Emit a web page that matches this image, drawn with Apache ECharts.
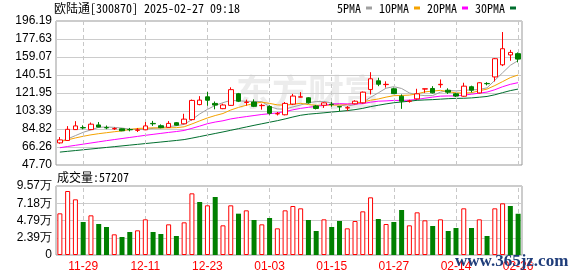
<!DOCTYPE html>
<html>
<head>
<meta charset="utf-8">
<script src="https://cdn.jsdelivr.net/npm/echarts@6/dist/echarts.min.js"></script>
<style>
html, body { margin: 0; padding: 0; background: #fff; }
#main { width: 578px; height: 276px; }
</style>
</head>
<body>
<div id="main"></div>
<script>
// 交易日
const dates = ['11-26','11-27','11-28','11-29','12-02','12-03','12-04','12-05','12-06','12-09',
  '12-10','12-11','12-12','12-13','12-16','12-17','12-18','12-19','12-20','12-23',
  '12-24','12-25','12-26','12-27','12-30','12-31','01-02','01-03','01-06','01-07',
  '01-08','01-09','01-10','01-13','01-14','01-15','01-16','01-17','01-20','01-21',
  '01-22','01-23','01-24','01-27','02-05','02-06','02-07','02-10','02-11','02-12',
  '02-13','02-14','02-17','02-18','02-19','02-20','02-21','02-24','02-25','02-26'];
const markDates = ['11-29','12-11','12-23','01-03','01-15','01-27','02-14','02-26'];

// [开, 收, 低, 高]
const candles = [
  [70.5,73.6,69.6,76.5],[73.0,84.5,72.5,87.8],[84.2,88.0,83.8,92.9],[86.3,86.0,84.5,88.6],
  [84.2,89.8,84.0,91.5],[89.0,86.8,86.5,92.0],[86.3,86.0,84.6,88.4],[85.0,85.3,83.8,86.6],
  [85.0,83.0,82.6,85.4],[84.3,84.0,82.4,85.9],[83.5,83.8,81.7,85.8],[84.0,88.0,83.6,92.0],
  [90.6,90.2,88.0,93.2],[88.2,86.2,85.6,89.6],[86.5,90.6,86.0,93.0],[91.3,88.8,88.3,92.0],
  [90.2,95.0,89.8,100.5],[94.5,114.3,93.6,115.2],[110.0,114.6,109.3,118.7],[118.0,114.5,108.8,123.0],
  [111.2,109.5,105.1,113.2],[105.8,109.6,105.3,110.9],[109.2,125.4,108.8,127.8],[121.2,113.5,112.6,122.0],
  [112.2,112.5,108.9,115.1],[112.6,108.2,107.4,115.4],[108.9,109.2,104.8,110.9],[108.0,101.0,99.6,109.3],
  [100.4,100.7,98.8,102.4],[99.5,111.2,98.9,112.7],[110.5,118.8,109.5,121.0],[117.7,118.0,117.4,122.8],
  [117.0,111.8,111.0,117.6],[108.6,106.0,105.0,109.6],[109.3,111.8,106.6,112.4],[110.3,110.0,107.8,112.6],
  [107.9,107.6,103.1,108.6],[106.5,106.8,103.5,108.6],[110.8,113.5,110.2,114.5],[111.8,122.8,111.0,123.5],
  [125.6,136.6,120.4,143.4],[134.5,131.0,129.0,137.7],[130.6,130.9,127.5,134.0],[126.3,121.3,120.8,127.5],
  [118.6,113.5,105.6,120.5],[113.4,113.7,112.0,115.0],[115.9,121.1,115.2,126.3],[126.0,126.3,122.1,126.5],
  [126.6,122.1,121.5,129.0],[130.5,130.9,127.3,135.9],[124.8,122.8,121.0,126.8],[121.1,118.8,117.8,122.0],
  [118.6,129.0,118.0,132.5],[128.4,124.8,122.5,129.5],[122.0,132.5,121.5,133.0],[131.8,131.5,129.8,133.1],
  [138.5,157.3,133.8,158.0],[151.0,167.6,149.7,184.8],[161.2,163.8,155.2,166.4],[162.5,156.9,153.5,163.8]
];

const ma5 = [72.0,74.6,78.0,81.4,83.9,86.6,86.9,86.5,85.8,84.7,
  84.2,84.5,85.5,86.1,87.3,88.2,89.6,94.5,100.3,105.1,
  109.1,112.0,114.3,113.9,113.4,113.3,113.0,108.0,105.5,105.3,
  107.6,109.6,111.9,113.1,113.3,111.5,109.5,108.4,110.0,112.2,
  117.5,122.1,126.9,128.5,126.6,122.0,120.1,119.2,119.3,122.8,
  124.6,124.1,124.6,125.2,125.5,127.3,135.0,142.8,150.5,155.4];
const ma10 = [71.8,73.6,75.6,77.3,78.8,80.0,81.0,82.0,82.9,84.3,
  85.4,85.7,86.0,85.9,86.0,86.2,87.1,90.0,93.2,96.2,
  98.7,100.8,104.4,107.1,109.3,111.2,112.5,111.2,109.7,109.4,
  110.4,111.3,110.0,109.3,109.3,109.5,109.5,110.2,111.5,112.7,
  114.5,115.8,117.7,119.2,119.4,119.8,121.1,123.1,123.9,124.7,
  123.3,122.1,121.9,122.3,124.2,126.0,129.6,133.7,137.8,140.5];
const ma20 = [65.5,66.8,68.0,69.2,70.4,71.6,72.8,73.9,75.0,76.1,
  77.2,78.3,79.3,80.3,81.3,82.2,83.3,85.5,87.8,90.3,
  92.0,93.3,95.2,96.5,97.6,98.7,99.8,100.6,101.4,102.8,
  104.6,106.1,107.2,108.2,109.3,110.4,111.0,110.7,110.6,111.0,
  112.5,113.5,113.8,114.3,114.3,114.6,115.3,116.6,117.7,118.7,
  118.9,118.9,119.8,120.7,121.8,122.9,125.3,128.4,130.9,132.6];
const ma30 = [61.0,61.8,62.6,63.4,64.2,65.0,65.8,66.6,67.4,68.2,
  69.0,69.8,70.6,71.4,72.2,73.0,73.9,75.4,77.0,78.6,
  80.2,81.8,83.5,85.2,86.9,88.6,90.2,91.8,93.4,95.2,
  97.2,99.0,100.1,100.8,101.5,102.3,103.0,103.8,104.8,106.1,
  107.9,109.3,110.7,111.9,112.7,113.5,114.4,114.8,115.1,115.6,
  116.1,116.4,116.5,116.9,117.6,118.4,120.1,122.3,124.4,126.0];

// 成交量(手) 及涨跌(1 涨 / 0 跌)
const volumes = [57790,88760,77200,45770,55010,42990,38830,28660,24960,31900,
  34210,49470,31900,29120,42530,26350,45300,85520,73500,68880,
  80440,41140,68880,57320,61950,48540,42530,51310,36980,61950,
  67960,64720,48540,33290,49470,38830,47150,36980,47150,60560,
  79980,49930,42990,45770,62410,41140,59170,48080,40220,49470,
  33290,37450,64720,37450,49470,26350,64720,71660,67960,57207];
const volUp = [1,1,1,0,1,0,0,1,0,0, 1,1,0,0,1,0,1,1,0,1,
  0,1,1,0,1,0,1,0,1,1, 1,1,0,0,1,0,0,1,1,1,
  1,0,1,0,0,1,1,1,0,1, 0,0,1,0,1,0,1,1,0,0];

const priceTicks = ['47.70','66.26','84.82','103.39','121.95','140.51','159.07','177.63','196.19'];
const volTicks = ['0','2.39万','4.79万','7.18万','9.57万'];

const priceMin = 47.70, priceMax = 196.19, priceStep = (priceMax - priceMin) / 8;
const volMax = 95700, volStep = volMax / 4;

const RED = '#ff0000', GREEN = '#008000';
const monoFont = '"Noto Sans Mono CJK SC", "DejaVu Sans Mono", monospace';
const numFont = '"Liberation Sans", Arial, sans-serif';

var chartDom = document.getElementById('main');
var myChart = echarts.init(chartDom, null, { renderer: 'canvas' });

const vLines = {
    silent: true,
    symbol: 'none',
    label: { show: false },
    lineStyle: { color: '#c8c8c8', type: [4, 3], width: 1 },
    data: markDates.map(d => ({ xAxis: d }))
};

var option = {
    animation: false,
    backgroundColor: '#fff',
    title: {
        text: '欧陆通[300870] 2025-02-27 09:18',
        left: 54, top: 2, padding: 0,
        textStyle: { fontSize: 12, fontWeight: 'normal', color: '#000', fontFamily: monoFont }
    },
    legend: {
        data: ['5PMA', '10PMA', '20PMA', '30PMA'],
        left: 337, top: 2, padding: 0,
        align: 'right',
        icon: 'rect',
        itemWidth: 6, itemHeight: 3, itemGap: 7,
        selectedMode: false,
        textStyle: { fontSize: 12, color: '#000', fontFamily: monoFont }
    },
    graphic: [
        {
            type: 'text', left: 236, top: 74, z: 0, silent: true,
            style: { text: '东方财富', fontSize: 36, fontWeight: 'bold', fill: '#ececec', fontFamily: '"Noto Sans CJK SC"' }
        },
        {
            type: 'text', left: 57, top: 171,
            style: { text: '成交量:57207', fontSize: 12, fill: '#000', fontFamily: monoFont }
        },
        {
            type: 'text', left: 455, top: 253, z: 100,
            style: { text: 'www.365jz.com', fontSize: 17, fontWeight: 'bold', fill: '#1f3d7a', fontFamily: '"Liberation Serif", serif' }
        }
    ],
    grid: [
        { left: 56, top: 21, width: 466, height: 144, show: true, borderColor: '#999', borderWidth: 1 },
        { left: 56, top: 186, width: 466, height: 69, show: true, borderColor: '#999', borderWidth: 1 }
    ],
    xAxis: [
        {
            type: 'category', gridIndex: 0, data: dates, boundaryGap: true,
            axisLine: { show: false }, axisTick: { show: false }, axisLabel: { show: false }, splitLine: { show: false }
        },
        {
            type: 'category', gridIndex: 1, data: dates, boundaryGap: true,
            axisLine: { show: false }, axisTick: { show: false }, splitLine: { show: false },
            axisLabel: {
                color: RED, fontSize: 12, fontFamily: numFont, margin: 6,
                interval: (i, v) => markDates.includes(v)
            }
        }
    ],
    yAxis: [
        {
            type: 'value', gridIndex: 0, min: priceMin, max: priceMax, interval: priceStep,
            axisLine: { show: false }, axisTick: { show: false },
            splitLine: { lineStyle: { color: '#cccccc' } },
            axisLabel: {
                color: '#000', fontSize: 12, fontFamily: numFont, margin: 4,
                formatter: v => priceTicks[Math.round((v - priceMin) / priceStep)]
            }
        },
        {
            type: 'value', gridIndex: 1, min: 0, max: volMax, interval: volStep,
            axisLine: { show: false }, axisTick: { show: false },
            splitLine: { lineStyle: { color: '#cccccc' } },
            axisLabel: {
                color: '#000', fontSize: 12, fontFamily: numFont, margin: 4,
                formatter: v => volTicks[Math.round(v / volStep)]
            }
        }
    ],
    series: [
        {
            name: 'grid0', type: 'line', xAxisIndex: 0, yAxisIndex: 0, z: 1,
            data: ma30, showSymbol: false, lineStyle: { opacity: 0 }, markLine: vLines
        },
        {
            name: 'grid1', type: 'line', xAxisIndex: 1, yAxisIndex: 1, z: 1,
            data: volumes, showSymbol: false, lineStyle: { opacity: 0 }, markLine: vLines
        },
        {
            name: 'K', type: 'candlestick', xAxisIndex: 0, yAxisIndex: 0, z: 5,
            barWidth: 5,
            data: candles,
            itemStyle: {
                color: '#fff', borderColor: RED,
                color0: GREEN, borderColor0: GREEN,
                borderWidth: 1
            }
        },
        { name: '5PMA', type: 'line', data: ma5, color: '#a0a0a0', showSymbol: false, z: 3, lineStyle: { width: 1 } },
        { name: '10PMA', type: 'line', data: ma10, color: '#f5a300', showSymbol: false, z: 3, lineStyle: { width: 1 } },
        { name: '20PMA', type: 'line', data: ma20, color: '#ff00ff', showSymbol: false, z: 3, lineStyle: { width: 1 } },
        { name: '30PMA', type: 'line', data: ma30, color: '#006e2e', showSymbol: false, z: 3, lineStyle: { width: 1 } },
        {
            name: '成交量', type: 'bar', xAxisIndex: 1, yAxisIndex: 1, barWidth: 5, z: 5,
            data: volumes.map((v, i) => ({
                value: v,
                itemStyle: volUp[i]
                    ? { color: '#fff', borderColor: RED, borderWidth: 1 }
                    : { color: GREEN }
            }))
        }
    ]
};
option && myChart.setOption(option);
</script>
</body>
</html>
